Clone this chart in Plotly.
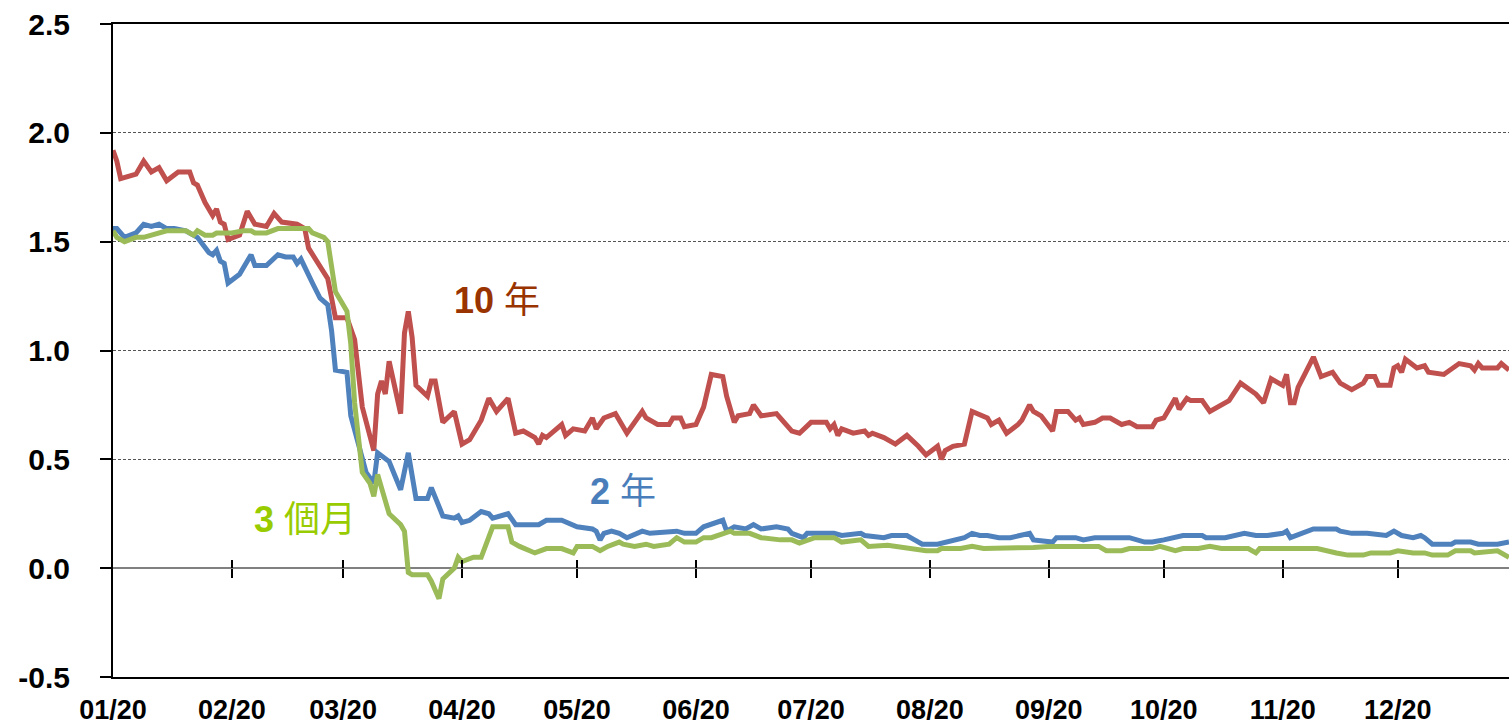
import pandas as pd
import plotly.graph_objects as go

# ---- data (days since 2020-01-01, yield %) ----
ten_days = [0,1,2,6,8,10,12,14,17,20,21,22,24,26,27,28,29,30,33,35,37,40,42,44,48,50,51,54,56,58,61,63,65,68,69,70,71,72,75,76,77,78,79,82,83,84,86,89,91,93,96,98,100,103,105,107,110,111,112,113,117,118,120,123,125,126,128,131,134,138,139,142,145,146,148,149,152,154,156,159,160,162,163,166,167,169,173,175,177,179,182,186,187,188,189,190,193,196,197,198,201,204,207,210,212,215,216,217,219,222,223,224,228,229,231,233,236,237,239,240,242,244,245,246,249,251,252,253,256,258,260,263,265,267,271,272,274,277,278,280,281,284,286,291,294,298,300,302,305,306,307,308,309,313,315,318,320,323,326,327,329,330,333,334,335,336,337,340,342,343,347,351,354,355,356,357,361,362,364]
ten_year = [1.92,1.87,1.79,1.81,1.87,1.82,1.84,1.78,1.82,1.82,1.77,1.76,1.68,1.62,1.65,1.59,1.58,1.51,1.53,1.64,1.58,1.57,1.63,1.59,1.58,1.56,1.47,1.38,1.33,1.15,1.15,1.05,0.74,0.54,0.80,0.86,0.80,0.95,0.71,1.08,1.18,1.06,0.84,0.79,0.86,0.86,0.67,0.72,0.57,0.59,0.68,0.78,0.72,0.78,0.62,0.63,0.60,0.57,0.61,0.60,0.66,0.61,0.64,0.63,0.69,0.64,0.69,0.71,0.62,0.72,0.69,0.66,0.66,0.69,0.69,0.65,0.66,0.74,0.89,0.88,0.79,0.67,0.70,0.71,0.75,0.70,0.71,0.67,0.63,0.62,0.67,0.67,0.64,0.66,0.61,0.64,0.62,0.63,0.61,0.62,0.60,0.57,0.61,0.56,0.52,0.56,0.50,0.54,0.56,0.57,0.64,0.72,0.69,0.66,0.68,0.62,0.66,0.68,0.75,0.72,0.70,0.65,0.63,0.72,0.72,0.68,0.69,0.66,0.67,0.69,0.69,0.66,0.67,0.65,0.65,0.68,0.69,0.78,0.73,0.78,0.77,0.77,0.72,0.77,0.85,0.80,0.76,0.87,0.84,0.89,0.76,0.76,0.83,0.97,0.88,0.90,0.85,0.82,0.85,0.88,0.88,0.84,0.84,0.92,0.93,0.90,0.96,0.92,0.93,0.90,0.89,0.94,0.93,0.91,0.94,0.92,0.92,0.94,0.91]

two_days = [0,1,3,6,8,10,12,14,16,19,22,25,26,27,28,29,30,33,36,37,40,43,45,47,48,49,52,54,56,57,58,61,62,64,66,68,69,72,75,77,79,82,83,86,89,90,91,93,96,98,99,103,105,111,113,117,121,125,126,127,128,130,132,134,138,140,147,149,152,154,157,159,160,162,165,167,169,173,176,177,180,181,184,188,190,195,196,201,203,207,209,211,215,217,219,222,224,226,228,231,234,237,239,240,245,246,251,253,256,260,265,269,271,274,276,279,284,285,290,295,298,301,305,306,307,310,313,319,320,323,327,332,334,336,339,341,342,344,349,350,354,356,361,364]
two_year = [1.56,1.56,1.52,1.54,1.58,1.57,1.58,1.56,1.56,1.55,1.52,1.45,1.44,1.46,1.41,1.40,1.31,1.35,1.44,1.39,1.39,1.44,1.43,1.43,1.40,1.42,1.31,1.24,1.21,1.09,0.91,0.90,0.70,0.56,0.44,0.39,0.53,0.49,0.36,0.53,0.32,0.32,0.37,0.24,0.23,0.24,0.21,0.22,0.26,0.25,0.23,0.25,0.20,0.20,0.22,0.22,0.19,0.18,0.17,0.13,0.16,0.17,0.16,0.14,0.17,0.16,0.17,0.16,0.16,0.19,0.21,0.22,0.17,0.19,0.18,0.20,0.18,0.19,0.18,0.16,0.14,0.16,0.16,0.16,0.15,0.16,0.15,0.14,0.15,0.15,0.13,0.11,0.11,0.12,0.13,0.14,0.16,0.15,0.15,0.14,0.14,0.15,0.16,0.13,0.12,0.14,0.14,0.13,0.14,0.14,0.14,0.12,0.12,0.13,0.14,0.15,0.15,0.14,0.14,0.16,0.15,0.15,0.16,0.17,0.14,0.16,0.18,0.18,0.17,0.16,0.16,0.15,0.17,0.15,0.14,0.15,0.14,0.11,0.11,0.12,0.12,0.11,0.11,0.12]

three_days = [0,1,3,6,8,10,12,14,19,21,22,24,26,27,29,31,34,36,37,40,43,44,51,52,55,56,57,58,60,61,62,63,65,67,68,69,70,72,75,76,77,78,82,83,85,86,89,90,91,94,96,99,103,104,106,110,113,117,120,121,125,127,129,132,133,136,139,141,145,147,149,152,154,156,161,162,166,169,174,177,179,183,188,190,195,197,202,204,210,212,215,216,221,224,227,229,231,237,240,244,250,251,255,257,259,263,265,269,271,273,277,279,283,286,289,296,298,299,314,319,322,326,328,333,335,339,342,344,348,350,354,355,361,364]
three_month = [1.55,1.52,1.50,1.52,1.52,1.53,1.54,1.55,1.55,1.53,1.55,1.53,1.53,1.54,1.54,1.54,1.55,1.55,1.54,1.54,1.56,1.56,1.56,1.54,1.52,1.50,1.40,1.27,1.21,1.18,1.03,0.76,0.44,0.39,0.33,0.43,0.37,0.25,0.20,0.17,-0.02,-0.03,-0.03,-0.06,-0.14,-0.05,0.00,0.05,0.03,0.05,0.05,0.19,0.19,0.12,0.10,0.07,0.09,0.09,0.07,0.10,0.10,0.08,0.10,0.12,0.11,0.10,0.11,0.10,0.11,0.14,0.12,0.12,0.14,0.14,0.17,0.16,0.16,0.14,0.13,0.13,0.115,0.14,0.14,0.12,0.13,0.10,0.105,0.10,0.09,0.08,0.08,0.09,0.09,0.10,0.09,0.09,0.09,0.09,0.095,0.10,0.10,0.105,0.10,0.10,0.08,0.08,0.09,0.09,0.09,0.10,0.08,0.09,0.09,0.10,0.09,0.09,0.07,0.09,0.09,0.07,0.06,0.06,0.07,0.07,0.08,0.07,0.07,0.06,0.06,0.08,0.08,0.07,0.08,0.05]

tick_dates = ["2020-01-01","2020-02-01","2020-03-01","2020-04-01","2020-05-01","2020-06-01",
              "2020-07-01","2020-08-01","2020-09-01","2020-10-01","2020-11-01","2020-12-01"]
tick_labels = ["01/20","02/20","03/20","04/20","05/20","06/20","07/20","08/20","09/20","10/20","11/20","12/20"]
y_ticks = [-0.5, 0.0, 0.5, 1.0, 1.5, 2.0, 2.5]
y_tick_labels = ["-0.5", "0.0", "0.5", "1.0", "1.5", "2.0", "2.5"]

base = pd.Timestamp("2020-01-01")
def to_dates(days):
    return [base + pd.Timedelta(days=d) for d in days]

RED, BLUE, GREEN = "#C0504D", "#4F81BD", "#9BBB59"
FONT = "Liberation Sans, Arial, Noto Sans CJK TC, sans-serif"

fig = go.Figure()
fig.add_trace(go.Scatter(x=to_dates(ten_days), y=ten_year, mode="lines",
                         line=dict(color=RED, width=5), hoverinfo="skip"))
fig.add_trace(go.Scatter(x=to_dates(two_days), y=two_year, mode="lines",
                         line=dict(color=BLUE, width=5), hoverinfo="skip"))
fig.add_trace(go.Scatter(x=to_dates(three_days), y=three_month, mode="lines",
                         line=dict(color=GREEN, width=5), hoverinfo="skip"))
# invisible traces so the overlay tick axes on the zero line are drawn
for ax in ("x2", "x3"):
    fig.add_trace(go.Scatter(x=to_dates(ten_days), y=ten_year, mode="lines", xaxis=ax,
                             line=dict(color="rgba(0,0,0,0)", width=0), hoverinfo="skip"))

x_range = [base, base + pd.Timedelta(days=364)]
zero_pos = (0 - (-0.5)) / (2.5 - (-0.5))

common_tick_axis = dict(overlaying="x", matches="x", anchor="free", position=zero_pos,
                        side="bottom", showline=False, showgrid=False, zeroline=False,
                        showticklabels=False, tickmode="array", tickvals=tick_dates[1:],
                        tickcolor="black", tickwidth=1.5, automargin=False)

fig.update_layout(
    width=1509, height=726,
    margin=dict(l=113, r=0, t=24, b=49, autoexpand=False),
    paper_bgcolor="white", plot_bgcolor="white",
    showlegend=False,
    font=dict(family=FONT, color="black"),
    xaxis=dict(type="date", range=x_range, showline=True, linecolor="black", linewidth=2,
               mirror=True, ticks="", showgrid=False, zeroline=False,
               tickmode="array", tickvals=tick_dates, ticktext=tick_labels,
               tickfont=dict(size=27, family=FONT, color="black", weight="bold"),
               ticklabelstandoff=8, automargin=False),
    xaxis2=dict(common_tick_axis, ticks="outside", ticklen=9),
    xaxis3=dict(common_tick_axis, ticks="inside", ticklen=8),
    yaxis=dict(range=[-0.5, 2.5], tickmode="array", tickvals=y_ticks, ticktext=y_tick_labels,
               showline=True, linecolor="black", linewidth=2,
               ticks="outside", ticklen=11, tickcolor="black", tickwidth=1.5,
               showgrid=True, gridcolor="#555555", gridwidth=1, griddash="3px,2px",
               zeroline=True, zerolinecolor="#808080", zerolinewidth=2,
               tickfont=dict(size=30, family=FONT, color="black", weight="bold"),
               ticklabelstandoff=24, automargin=False),
)

fig.add_annotation(x=base + pd.Timedelta(days=100), y=1.23, xref="x", yref="y",
                   text="<b>10</b> 年", showarrow=False,
                   font=dict(size=36, color="#993300", family=FONT))
fig.add_annotation(x=base + pd.Timedelta(days=133), y=0.35, xref="x", yref="y",
                   text="<b>2</b> 年", showarrow=False,
                   font=dict(size=36, color="#4A7EBB", family=FONT))
fig.add_annotation(x=base + pd.Timedelta(days=50), y=0.225, xref="x", yref="y",
                   text="<b>3</b> 個月", showarrow=False,
                   font=dict(size=36, color="#99CC00", family=FONT))

fig.write_html("out.html", config={"displayModeBar": False},
               post_script="document.body.style.margin='0px';")
